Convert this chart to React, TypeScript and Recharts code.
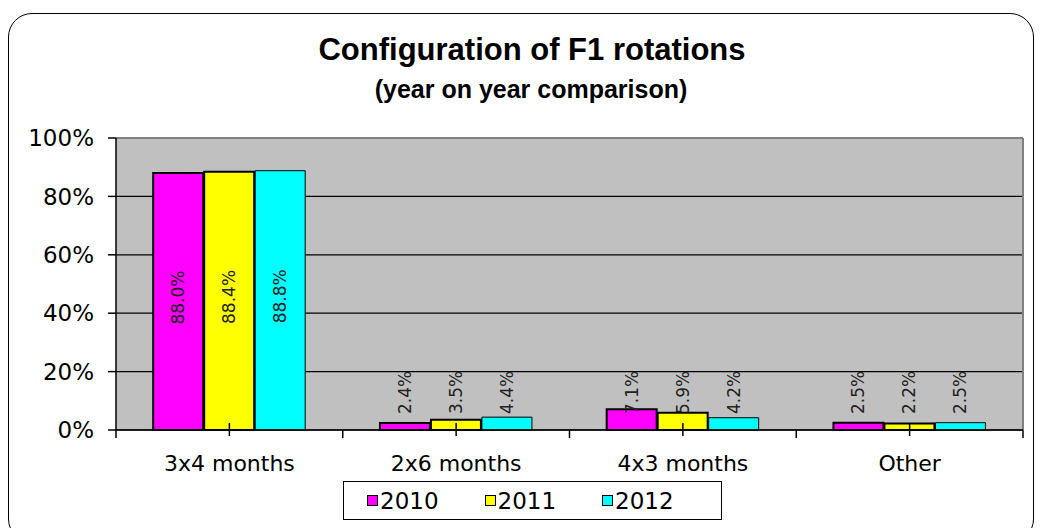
import React from 'react'
import { BarChart, Bar, XAxis, YAxis, CartesianGrid, Legend, LabelList, ReferenceLine } from 'recharts'

const categories = ['3x4 months', '2x6 months', '4x3 months', 'Other']
const years = ['2010', '2011', '2012']
const values2010 = [88.0, 2.4, 7.1, 2.5]
const values2011 = [88.4, 3.5, 5.9, 2.2]
const values2012 = [88.8, 4.4, 4.2, 2.5]
const yTicks = [0, 20, 40, 60, 80, 100]
const colors = ['#FF00FF', '#FFFF00', '#00FFFF']

const data = categories.map((name, i) => ({
  name,
  pos: i + 0.5,
  y2010: values2010[i],
  y2011: values2011[i],
  y2012: values2012[i],
}))

const AXIS_FONT = '"DejaVu Sans", sans-serif'
const TITLE_FONT = '"Liberation Sans", Arial, sans-serif'

const CHART_W = 1040
const CHART_H = 528
const MARGIN = { top: 138, right: 17, bottom: 48, left: 8 }
const Y_AXIS_W = 108
const BAND = (CHART_W - MARGIN.left - MARGIN.right - Y_AXIS_W) / categories.length

function BarValueLabel(props: any) {
  const { x, y, width, height, value } = props
  const cx = Number(x) + Number(width) / 2
  const bottom = Number(y) + Number(height)
  const text = Number(value).toFixed(1) + '%'
  if (Number(value) > 50) {
    const cy = Number(y) + Number(height) / 2 - 4
    return (
      <text x={cx} y={cy} transform={`rotate(-90 ${cx} ${cy})`} textAnchor="middle"
        dominantBaseline="central" fontSize={17} fontFamily={AXIS_FONT} fill="#222">
        {text}
      </text>
    )
  }
  const ty = bottom - 16
  return (
    <text x={cx} y={ty} transform={`rotate(-90 ${cx} ${ty})`} textAnchor="start"
      dominantBaseline="central" fontSize={17} fontFamily={AXIS_FONT} fill="#222">
      {text}
    </text>
  )
}

// center tick crosses the axis, boundary ticks hang below it
function CategoryTick(props: any) {
  const { x, y, payload, index } = props
  const left = x - BAND / 2
  const right = x + BAND / 2
  return (
    <g>
      <line x1={x} x2={x} y1={y - 7} y2={y + 6} stroke="#000" strokeWidth={1.5} />
      <line x1={left} x2={left} y1={y} y2={y + 8} stroke="#000" strokeWidth={1.5} />
      {index === categories.length - 1 && (
        <line x1={right} x2={right} y1={y} y2={y + 8} stroke="#000" strokeWidth={1.5} />
      )}
      <text x={x} y={y + 41} textAnchor="middle" fontSize={22} fontFamily={AXIS_FONT} fill="#000">
        {payload.value}
      </text>
    </g>
  )
}

function LegendBox() {
  return (
    <div style={{
      width: 379, height: 39, border: '1.5px solid #000', background: '#fff',
      display: 'flex', alignItems: 'center', justifyContent: 'flex-start', gap: 46,
      paddingLeft: 23, boxSizing: 'border-box',
      fontFamily: AXIS_FONT, fontSize: 23, color: '#000',
    }}>
      {years.map((yr, i) => (
        <div key={yr} style={{ display: 'flex', alignItems: 'center' }}>
          <span style={{
            display: 'inline-block', width: 9, height: 9, background: colors[i],
            border: '1.5px solid #000', marginRight: 2,
          }} />
          <span>{yr}</span>
        </div>
      ))}
    </div>
  )
}

export default function App() {
  return (
    <div style={{ position: 'absolute', left: 0, top: 0, width: CHART_W, height: CHART_H, overflow: 'hidden', background: '#fff' }}>
      <div style={{
        position: 'absolute', left: 8, top: 13, width: 1026, height: 530,
        border: '1.5px solid #000', borderRadius: 24, boxSizing: 'border-box',
      }} />
      <div style={{
        position: 'absolute', left: 0, top: 32, width: 1064, textAlign: 'center',
        fontFamily: TITLE_FONT, fontWeight: 'bold', fontSize: 31, color: '#000',
      }}>
        Configuration of F1 rotations
      </div>
      <div style={{
        position: 'absolute', left: 0, top: 75, width: 1062, textAlign: 'center',
        fontFamily: TITLE_FONT, fontWeight: 'bold', fontSize: 25, color: '#000',
      }}>
        (year on year comparison)
      </div>
      <div style={{ position: 'absolute', left: 0, top: 0 }}>
        <BarChart width={CHART_W} height={CHART_H} data={data} margin={MARGIN}
          barCategoryGap="16.4%" barGap={1}>
          <CartesianGrid vertical={false} fill="#C0C0C0" fillOpacity={1} stroke="#000" strokeWidth={1.2} />
          <XAxis xAxisId="edges" type="number" dataKey="pos" domain={[0, 4]} hide />
          <XAxis dataKey="name" height={50} tickSize={0} tickMargin={0} tickLine={false}
            axisLine={{ stroke: '#000', strokeWidth: 1.5 }} tick={<CategoryTick />} interval={0} />
          <YAxis width={Y_AXIS_W} domain={[0, 100]} ticks={yTicks} tickFormatter={(v) => v + '%'}
            tickSize={8} tickMargin={14} axisLine={{ stroke: '#000', strokeWidth: 1.5 }}
            tickLine={{ stroke: '#000', strokeWidth: 1.5 }}
            tick={{ fontSize: 23, fontFamily: AXIS_FONT, fill: '#000' }} />
          <ReferenceLine y={100} stroke="#808080" strokeWidth={2} />
          <ReferenceLine xAxisId="edges" x={4} stroke="#808080" strokeWidth={2} />
          <Legend layout="vertical" verticalAlign="middle" align="center" content={<LegendBox />}
            wrapperStyle={{ position: 'absolute', left: 343, top: 481, width: 380, height: 40 }} />
          <Bar dataKey="y2010" name="2010" fill={colors[0]} stroke="#000" strokeWidth={2} isAnimationActive={false}>
            <LabelList dataKey="y2010" content={<BarValueLabel />} />
          </Bar>
          <Bar dataKey="y2011" name="2011" fill={colors[1]} stroke="#000" strokeWidth={2} isAnimationActive={false}>
            <LabelList dataKey="y2011" content={<BarValueLabel />} />
          </Bar>
          <Bar dataKey="y2012" name="2012" fill={colors[2]} stroke="#000" strokeWidth={1} isAnimationActive={false}>
            <LabelList dataKey="y2012" content={<BarValueLabel />} />
          </Bar>
        </BarChart>
      </div>
    </div>
  )
}
